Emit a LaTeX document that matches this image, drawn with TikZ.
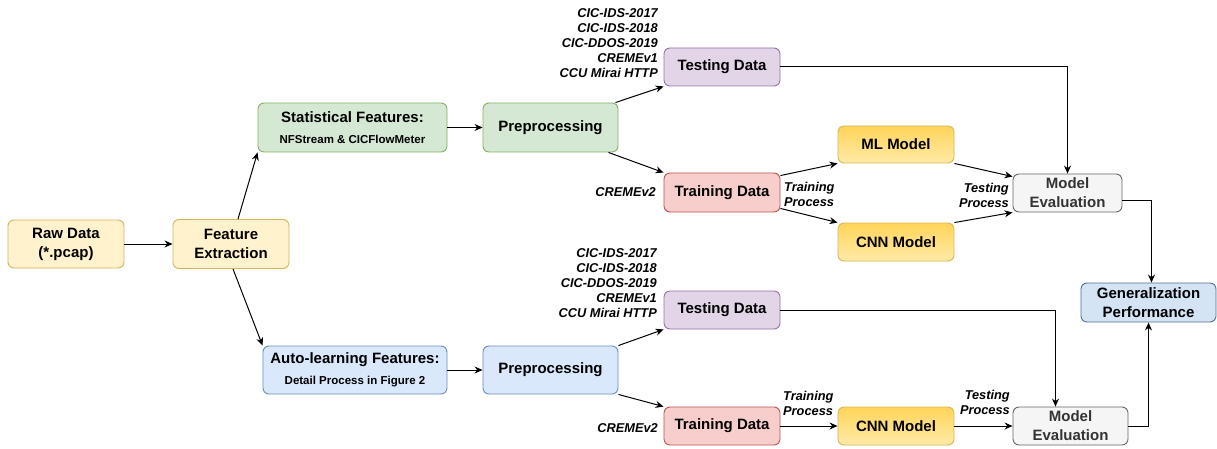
\documentclass[tikz,border=0pt]{standalone}
\usepackage{fontspec}
\setmainfont{Liberation Sans}
\usetikzlibrary{arrows.meta}
\definecolor{yelF}{HTML}{FFF2CC}\definecolor{yelD}{HTML}{D6B656}
\definecolor{grnF}{HTML}{D5E8D4}\definecolor{grnD}{HTML}{82B366}
\definecolor{bluF}{HTML}{DAE8FC}\definecolor{bluD}{HTML}{6C8EBF}
\definecolor{purF}{HTML}{E1D5E7}\definecolor{purD}{HTML}{9673A6}
\definecolor{redF}{HTML}{F8CECC}\definecolor{redD}{HTML}{B85450}
\definecolor{orT}{HTML}{FFD45A}\definecolor{orB}{HTML}{FFEAA6}
\definecolor{gryF}{HTML}{F5F5F5}\definecolor{gryD}{HTML}{666666}\definecolor{gryT}{HTML}{333333}
\definecolor{genF}{HTML}{D4E4F4}\definecolor{genD}{HTML}{4F6F8F}
\begin{document}
\begin{tikzpicture}[x=1pt,y=-1pt,
  box/.style={draw, rounded corners=6pt, line width=0.9pt, align=center, inner sep=0pt,
    font=\bfseries\fontsize{15}{19}\selectfont},
  yel/.style={fill=yelF, draw=yelD},
  grn/.style={fill=grnF, draw=grnD},
  blu/.style={fill=bluF, draw=bluD},
  pur/.style={fill=purF, draw=purD},
  red/.style={fill=redF, draw=redD},
  mdl/.style={top color=orT, bottom color=orB, draw=yelD},
  gry/.style={fill=gryF, draw=gryD, text=gryT},
  gen/.style={fill=genF, draw=genD},
  arr/.style={-{Stealth[length=8pt,width=7pt]}, line width=1pt},
  lbl/.style={inner sep=0pt, font=\bfseries\itshape\fontsize{12.8}{15}\selectfont}
]
\useasboundingbox (0,0) rectangle (1217,449);
% nodes
\node[box, yel, minimum width=116pt, minimum height=48pt] (raw) at (66,244) {Raw Data\\(*.pcap)};
\node[box, yel, minimum width=116pt, minimum height=49pt] (fe) at (231,244) {Feature\\Extraction};
\node[box, grn, minimum width=189pt, minimum height=49pt] (sf) at (352.5,127.5) {Statistical Features:\\[2pt]{\fontsize{11.5}{13}\selectfont NFStream \& CICFlowMeter}};
\node[box, grn, minimum width=135pt, minimum height=49pt] (pp1) at (550.5,127.5) {Preprocessing};
\node[box, pur, minimum width=116pt, minimum height=38pt] (te1) at (722,67) {Testing Data};
\node[box, red, minimum width=116pt, minimum height=39pt] (tr1) at (722,192.5) {Training Data};
\node[box, mdl, minimum width=116pt, minimum height=37pt] (ml) at (896,144.5) {ML Model};
\node[box, mdl, minimum width=116pt, minimum height=38pt] (cnn1) at (896,242) {CNN Model};
\node[box, gry, minimum width=109pt, minimum height=38pt] (me1) at (1067.5,193) {Model\\Evaluation};
\node[box, gen, minimum width=135pt, minimum height=39pt] (gp) at (1148.5,302.5) {Generalization\\Performance};
\node[box, blu, minimum width=184pt, minimum height=48pt] (al) at (355,370) {Auto-learning Features:\\[2pt]{\fontsize{11.5}{13}\selectfont Detail Process in Figure 2}};
\node[box, blu, minimum width=135pt, minimum height=48pt] (pp2) at (550.5,370) {Preprocessing};
\node[box, pur, minimum width=116pt, minimum height=38pt] (te2) at (722,310) {Testing Data};
\node[box, red, minimum width=116pt, minimum height=38pt] (tr2) at (722,426) {Training Data};
\node[box, mdl, minimum width=116pt, minimum height=38pt] (cnn2) at (896,426) {CNN Model};
\node[box, gry, minimum width=115pt, minimum height=38pt] (me2) at (1070.5,426) {Model\\Evaluation};
% labels
\node[lbl, align=right, anchor=east] (d1) at (658,43) {CIC-IDS-2017\\CIC-IDS-2018\\CIC-DDOS-2019\\CREMEv1\\CCU Mirai HTTP};
\node[lbl, anchor=east] (c1) at (656,192) {CREMEv2};
\node[lbl, align=left, anchor=west] (tp1) at (784,194) {Training\\Process};
\node[lbl, align=right, anchor=east] (sp1) at (1009,195) {Testing\\Process};
\node[lbl, align=right, anchor=east] (d2) at (657,283) {CIC-IDS-2017\\CIC-IDS-2018\\CIC-DDOS-2019\\CREMEv1\\CCU Mirai HTTP};
\node[lbl, anchor=east] (c2) at (658,428) {CREMEv2};
\node[lbl, align=left, anchor=west] (tp2) at (783,403) {Training\\Process};
\node[lbl, align=right, anchor=east] (sp2) at (1010,402) {Testing\\Process};
% connectors
\draw[arr] (raw) -- (fe);
\draw[arr] ([xshift=7pt]fe.north) -- (sf.south west);
\draw[arr] ([xshift=2pt]fe.south) -- (al.north west);
\draw[arr] (sf) -- (pp1);
\draw[arr] (al) -- (pp2);
\draw[arr] ([xshift=-3pt]pp1.north east) -- (te1.south west);
\draw[arr] ([xshift=-10pt]pp1.south east) -- (tr1.north west);
\draw[arr] (pp2.north east) -- (te2.south west);
\draw[arr] (pp2.south east) -- (tr2.north west);
\draw[arr] ([yshift=-3pt]tr1.north east) -- (ml.south west);
\draw[arr] ([yshift=4pt]tr1.south east) -- (cnn1.north west);
\draw[arr] (ml.south east) -- ([yshift=-3pt]me1.north west);
\draw[arr] (cnn1.north east) -- (me1.south west);
\draw[arr] (te1) -| (me1);
\draw[arr] ([yshift=-7pt]me1.east) -| ([xshift=3pt]gp.north);
\draw[arr] (te2) -| ([xshift=-15pt]me2.north);
\draw[arr] (tr2) -- (cnn2);
\draw[arr] (cnn2) -- (me2);
\draw[arr] (me2) -| (gp);
\end{tikzpicture}
\end{document}
